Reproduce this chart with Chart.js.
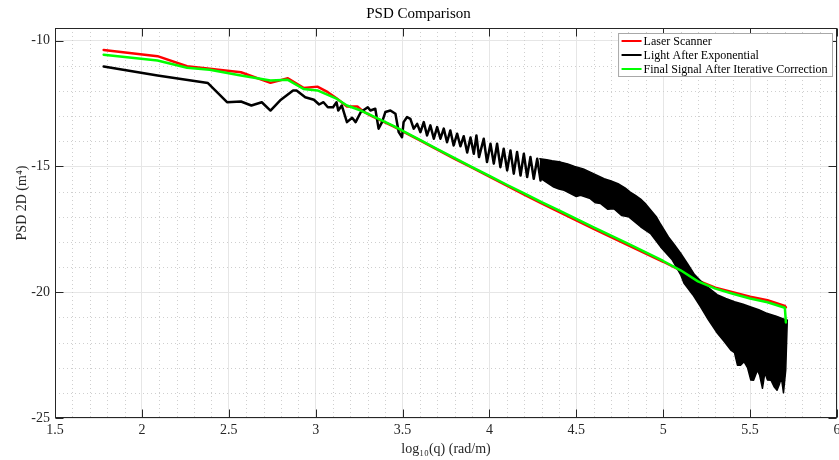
<!DOCTYPE html>
<html>
<head>
<meta charset="utf-8">
<script src="https://cdn.jsdelivr.net/npm/chart.js@4.4.1/dist/chart.umd.min.js"></script>
<style>
html,body{margin:0;padding:0;background:#fff;}
#wrap{width:839px;height:460px;position:relative;}
</style>
</head>
<body>
<div id="wrap"><canvas id="c" width="839" height="460"></canvas></div>
<script>
// ---------- text ----------
const titleText = 'PSD Comparison';
const xAxisTitle = 'log\u2081\u2080(q) (rad/m)';
const yAxisTitle = 'PSD 2D (m\u2074)';
const seriesNames = ['Laser Scanner', 'Light After Exponential', 'Final Signal After Iterative Correction'];

// ---------- ticks ----------
const xTicks = [1.5, 2, 2.5, 3, 3.5, 4, 4.5, 5, 5.5, 6];
const yTicks = [-25, -20, -15, -10];

// ---------- Laser Scanner (red) ----------
const laserX = [1.78,2.09,2.26,2.39,2.57,2.74,2.84,2.93,3.01,3.07,3.12,3.18,3.24,3.27,3.32,3.38,3.45,3.52,3.6,3.7,3.8,3.9,4.0,4.1,4.2,4.3,4.4,4.5,4.6,4.7,4.8,4.9,5.0,5.1,5.2,5.3,5.4,5.5,5.6,5.7,5.706];
const laserY = [-10.37,-10.62,-11.02,-11.12,-11.26,-11.68,-11.50,-11.88,-11.83,-12.05,-12.29,-12.62,-12.62,-12.80,-12.99,-13.19,-13.42,-13.68,-13.97,-14.33,-14.70,-15.05,-15.41,-15.77,-16.12,-16.47,-16.81,-17.15,-17.48,-17.81,-18.14,-18.47,-18.79,-19.13,-19.54,-19.82,-20.0,-20.18,-20.32,-20.55,-20.6];

// ---------- Light After Exponential (black) ----------
const lightX = [1.78,2.09,2.38,2.49,2.57,2.63,2.69,2.74,2.80,2.87,2.89,2.94,2.99,3.02,3.045,3.07,3.10,3.12,3.13,3.15,3.18,3.21,3.23,3.26,3.30,3.315,3.343,3.362,3.382,3.401,3.43,3.459,3.478,3.497,3.506,3.526,3.545,3.564,3.584,3.603,3.622,3.641,3.66,3.68,3.699,3.718,3.737,3.756,3.775,3.794,3.814,3.833,3.852,3.872,3.891,3.91,3.925,3.94,3.967,3.986,4.006,4.025,4.044,4.063,4.082,4.102,4.121,4.14,4.159,4.179,4.198,4.217,4.236,4.255,4.275,4.294,4.313];
const lightY = [-11.03,-11.39,-11.69,-12.45,-12.42,-12.58,-12.45,-12.78,-12.35,-11.98,-11.98,-12.25,-12.35,-12.54,-12.45,-12.65,-12.65,-12.45,-12.78,-12.58,-13.24,-13.07,-13.24,-12.84,-12.65,-12.78,-12.71,-13.50,-13.24,-12.84,-12.78,-12.91,-13.64,-13.84,-13.24,-13.04,-13.11,-13.50,-13.31,-13.64,-13.24,-13.77,-13.37,-13.90,-13.44,-13.90,-13.50,-14.04,-13.57,-14.17,-13.70,-14.20,-13.80,-14.45,-13.85,-14.50,-13.77,-14.63,-13.90,-14.83,-14.10,-14.89,-14.10,-15.03,-14.30,-15.16,-14.37,-15.29,-14.43,-15.36,-14.50,-15.42,-14.63,-15.49,-14.70,-15.56,-14.76];
// dense oscillation band of the same series: upper envelope (left to right), lower envelope (right to left)
const lightBandUpperX = [4.29,4.33,4.36,4.41,4.45,4.49,4.54,4.58,4.62,4.66,4.70,4.74,4.78,4.81,4.84,4.87,4.90,4.93,4.96,4.985,5.03,5.06,5.10,5.14,5.18,5.215,5.254,5.31,5.36,5.41,5.46,5.50,5.55,5.60,5.65,5.71];
const lightBandUpperY = [-14.70,-14.74,-14.78,-14.83,-14.9,-15.0,-15.1,-15.23,-15.36,-15.49,-15.58,-15.69,-15.85,-16.02,-16.15,-16.3,-16.5,-16.75,-17.0,-17.3,-17.8,-18.07,-18.45,-18.87,-19.3,-19.55,-19.79,-20.1,-20.25,-20.38,-20.48,-20.58,-20.7,-20.85,-20.95,-21.11];
const lightBandLowerX = [5.714,5.705,5.692,5.68,5.667,5.655,5.638,5.62,5.6,5.585,5.571,5.555,5.542,5.52,5.504,5.485,5.465,5.445,5.427,5.41,5.389,5.35,5.312,5.26,5.215,5.17,5.12,5.10,5.05,4.985,4.927,4.87,4.80,4.76,4.716,4.68,4.64,4.61,4.58,4.524,4.50,4.43,4.40,4.37,4.32,4.29];
const lightBandLowerY = [-21.11,-23.10,-24.0,-23.4,-23.69,-23.9,-23.76,-23.5,-23.49,-23.2,-23.82,-23.3,-23.10,-23.5,-23.49,-23.0,-22.76,-22.9,-22.90,-22.4,-22.30,-21.95,-21.63,-21.1,-20.58,-20.1,-19.65,-19.3,-18.7,-18.2,-17.67,-17.4,-17.0,-16.95,-16.68,-16.7,-16.48,-16.45,-16.28,-16.15,-16.2,-15.95,-15.9,-15.82,-15.6,-15.45];

// ---------- Final Signal After Iterative Correction (green) ----------
const finalX = [1.78,2.09,2.26,2.39,2.57,2.74,2.84,2.93,3.01,3.12,3.18,3.26,3.32,3.38,3.45,3.52,3.6,3.7,3.8,3.9,4.0,4.1,4.2,4.3,4.4,4.5,4.6,4.7,4.8,4.9,5.0,5.1,5.2,5.3,5.4,5.5,5.6,5.7,5.706];
const finalY = [-10.56,-10.79,-11.08,-11.16,-11.39,-11.59,-11.56,-11.92,-11.98,-12.31,-12.58,-12.78,-12.97,-13.17,-13.40,-13.66,-13.95,-14.31,-14.67,-15.03,-15.38,-15.73,-16.07,-16.42,-16.75,-17.09,-17.42,-17.75,-18.08,-18.42,-18.76,-19.13,-19.57,-19.86,-20.06,-20.25,-20.4,-20.62,-21.2];

// ---------- helpers ----------
const pts = (xs, ys) => xs.map((x, i) => ({x: x, y: ys[i]}));
const colors = ['#ff0000', '#000000', '#00ff00'];
const FONT = "'Liberation Serif', 'Times New Roman', serif";
const AXIS_COLOR = '#262626';

const frameAndLegend = {
  id: 'frameAndLegend',
  beforeDatasetsDraw(chart) {
    const {ctx, chartArea: a, scales: {x, y}} = chart;
    ctx.save();
    ctx.strokeStyle = '#cfcfcf';
    ctx.lineWidth = 1;
    ctx.setLineDash([1, 3]);
    const xMinorStep = 0.1, yMinorStep = 1;
    const nx = Math.round((x.max - x.min) / xMinorStep);
    for (let i = 1; i < nx; i++) {
      if (i % 5 === 0) continue;
      const px = Math.round(x.getPixelForValue(x.min + i * xMinorStep)) + 0.5;
      ctx.beginPath(); ctx.moveTo(px, a.top); ctx.lineTo(px, a.bottom); ctx.stroke();
    }
    for (let v = y.min + yMinorStep; v < y.max; v += yMinorStep) {
      if (Math.abs(v % 5) < 1e-9) continue;
      const py = Math.round(y.getPixelForValue(v)) + 0.5;
      ctx.beginPath(); ctx.moveTo(a.left, py); ctx.lineTo(a.right, py); ctx.stroke();
    }
    ctx.restore();
  },
  afterDatasetsDraw(chart) {
    const {ctx, chartArea: a, scales: {x, y}} = chart;
    ctx.save();
    ctx.strokeStyle = AXIS_COLOR;
    ctx.lineWidth = 1;
    const L = Math.round(a.left) + 0.5, R = Math.round(a.right) - 0.5;
    const T = Math.round(a.top) + 0.5, B = Math.round(a.bottom) - 0.5;
    ctx.strokeRect(L, T, R - L, B - T);
    const tl = 8;
    ctx.beginPath();
    xTicks.forEach(v => {
      const px = Math.round(x.getPixelForValue(v)) + 0.5;
      ctx.moveTo(px, B); ctx.lineTo(px, B - tl);
      ctx.moveTo(px, T); ctx.lineTo(px, T + tl);
    });
    yTicks.forEach(v => {
      const py = Math.round(y.getPixelForValue(v)) + 0.5;
      ctx.moveTo(L, py); ctx.lineTo(L + tl, py);
      ctx.moveTo(R, py); ctx.lineTo(R - tl, py);
    });
    ctx.stroke();
    ctx.restore();
  },
  afterDraw(chart) {
    const {ctx, chartArea: a} = chart;
    ctx.save();
    // y axis title
    ctx.font = '14px ' + FONT;
    ctx.fillStyle = AXIS_COLOR;
    ctx.textAlign = 'center';
    ctx.textBaseline = 'middle';
    ctx.translate(22, 203);
    ctx.rotate(-Math.PI / 2);
    ctx.fillText(yAxisTitle, 0, 0);
    ctx.restore();

    // legend
    ctx.save();
    ctx.font = '12px ' + FONT;
    const textW = Math.max(...seriesNames.map(s => ctx.measureText(s).width));
    const right = Math.round(a.right) - 4.5;
    const top = Math.round(a.top) + 5.5;
    const w = textW + 30, h = 43;
    const left = right - w;
    ctx.fillStyle = '#ffffff';
    ctx.fillRect(left, top, w, h);
    ctx.strokeStyle = '#a8a8a8';
    ctx.lineWidth = 1;
    ctx.strokeRect(left, top, w, h);
    ctx.textAlign = 'left';
    ctx.textBaseline = 'middle';
    seriesNames.forEach((name, i) => {
      const cy = top + 7.5 + i * 14;
      ctx.strokeStyle = colors[i];
      ctx.lineWidth = 2;
      ctx.beginPath(); ctx.moveTo(left + 3, cy); ctx.lineTo(left + 23, cy); ctx.stroke();
      ctx.fillStyle = '#000000';
      ctx.fillText(name, left + 25, cy + 0.5);
    });
    ctx.restore();
  }
};

const common = {pointRadius: 0, tension: 0, borderJoinStyle: 'round', borderCapStyle: 'round'};

new Chart(document.getElementById('c'), {
  type: 'line',
  data: {
    datasets: [
      Object.assign({label: seriesNames[0], data: pts(laserX, laserY), borderColor: colors[0], backgroundColor: colors[0], borderWidth: 2.5, fill: false, order: 3}, common),
      Object.assign({label: seriesNames[1], data: pts(lightX, lightY), borderColor: colors[1], backgroundColor: colors[1], borderWidth: 2.5, fill: false, order: 2}, common),
      Object.assign({label: seriesNames[1] + ' (band)', data: pts(lightBandUpperX.concat(lightBandLowerX), lightBandUpperY.concat(lightBandLowerY)), borderColor: colors[1], backgroundColor: colors[1], borderWidth: 1.5, fill: 'shape', order: 2}, common),
      Object.assign({label: seriesNames[2], data: pts(finalX, finalY), borderColor: colors[2], backgroundColor: colors[2], borderWidth: 2.5, fill: false, order: 1}, common)
    ]
  },
  options: {
    responsive: false,
    devicePixelRatio: 1,
    animation: false,
    events: [],
    layout: {padding: {left: 0, right: 2, top: 0, bottom: 0}},
    plugins: {
      legend: {display: false},
      tooltip: {enabled: false},
      title: {display: true, text: titleText, color: '#000000', font: {family: FONT, size: 15, weight: 'normal'}, padding: {top: 5, bottom: 5}}
    },
    scales: {
      x: {
        type: 'linear', min: xTicks[0], max: xTicks[xTicks.length - 1],
        afterBuildTicks: s => { s.ticks = xTicks.map(v => ({value: v})); },
        afterFit: s => { s.height = 42; s.paddingLeft = 0; s.paddingRight = 0; },
        grid: {color: '#e6e6e6', lineWidth: 1, drawTicks: false},
        border: {display: false},
        ticks: {color: AXIS_COLOR, font: {family: FONT, size: 14}, padding: 4, maxRotation: 0, autoSkip: false, callback: v => String(v)},
        title: {display: true, text: xAxisTitle, color: AXIS_COLOR, font: {family: FONT, size: 14}, padding: {top: 0, bottom: 2}}
      },
      y: {
        type: 'linear', min: yTicks[0], max: -9.5,
        afterBuildTicks: s => { s.ticks = yTicks.map(v => ({value: v})); },
        afterFit: s => { s.width = 55; s.paddingTop = 0; s.paddingBottom = 0; },
        grid: {color: '#e6e6e6', lineWidth: 1, drawTicks: false},
        border: {display: false},
        ticks: {color: AXIS_COLOR, font: {family: FONT, size: 14}, padding: 5, callback: v => String(v)}
      }
    }
  },
  plugins: [frameAndLegend]
});
</script>
</body>
</html>
